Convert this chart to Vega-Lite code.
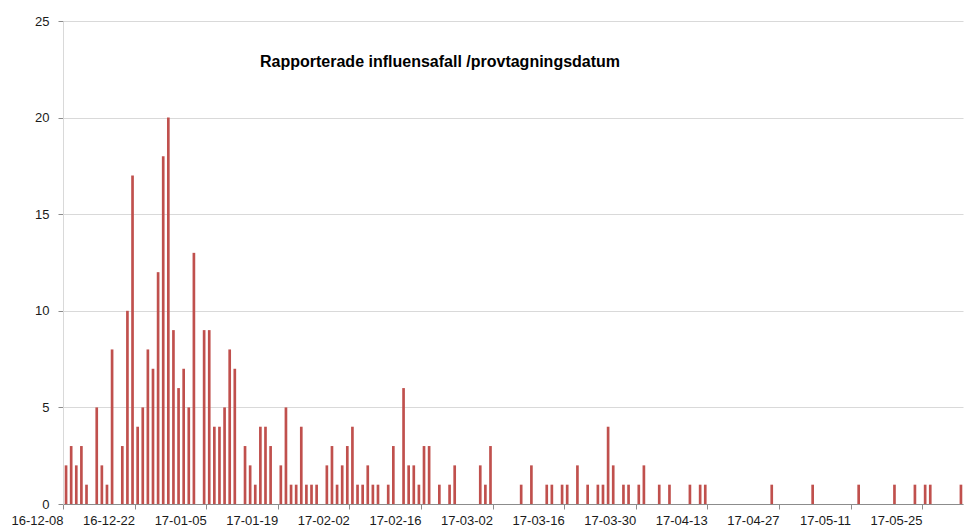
{
  "$schema": "https://vega.github.io/schema/vega-lite/v6.json",
  "autosize": "none",
  "width": 900,
  "height": 483,
  "padding": {"left": 63, "top": 21, "right": 10, "bottom": 25},
  "background": "white",
  "title": {
    "text": "Rapporterade influensafall /provtagningsdatum",
    "anchor": "start",
    "frame": "group",
    "orient": "top",
    "offset": 0,
    "dx": 197,
    "dy": 71,
    "baseline": "bottom",
    "font": "Liberation Sans",
    "fontSize": 16,
    "fontWeight": "bold",
    "color": "#000000"
  },
  "config": {
    "view": {"stroke": null},
    "font": "Liberation Sans"
  },
  "data": {
    "values": [
      {"date": "2016-12-08", "count": 2},
      {"date": "2016-12-09", "count": 3},
      {"date": "2016-12-10", "count": 2},
      {"date": "2016-12-11", "count": 3},
      {"date": "2016-12-12", "count": 1},
      {"date": "2016-12-14", "count": 5},
      {"date": "2016-12-15", "count": 2},
      {"date": "2016-12-16", "count": 1},
      {"date": "2016-12-17", "count": 8},
      {"date": "2016-12-19", "count": 3},
      {"date": "2016-12-20", "count": 10},
      {"date": "2016-12-21", "count": 17},
      {"date": "2016-12-22", "count": 4},
      {"date": "2016-12-23", "count": 5},
      {"date": "2016-12-24", "count": 8},
      {"date": "2016-12-25", "count": 7},
      {"date": "2016-12-26", "count": 12},
      {"date": "2016-12-27", "count": 18},
      {"date": "2016-12-28", "count": 20},
      {"date": "2016-12-29", "count": 9},
      {"date": "2016-12-30", "count": 6},
      {"date": "2016-12-31", "count": 7},
      {"date": "2017-01-01", "count": 5},
      {"date": "2017-01-02", "count": 13},
      {"date": "2017-01-04", "count": 9},
      {"date": "2017-01-05", "count": 9},
      {"date": "2017-01-06", "count": 4},
      {"date": "2017-01-07", "count": 4},
      {"date": "2017-01-08", "count": 5},
      {"date": "2017-01-09", "count": 8},
      {"date": "2017-01-10", "count": 7},
      {"date": "2017-01-12", "count": 3},
      {"date": "2017-01-13", "count": 2},
      {"date": "2017-01-14", "count": 1},
      {"date": "2017-01-15", "count": 4},
      {"date": "2017-01-16", "count": 4},
      {"date": "2017-01-17", "count": 3},
      {"date": "2017-01-19", "count": 2},
      {"date": "2017-01-20", "count": 5},
      {"date": "2017-01-21", "count": 1},
      {"date": "2017-01-22", "count": 1},
      {"date": "2017-01-23", "count": 4},
      {"date": "2017-01-24", "count": 1},
      {"date": "2017-01-25", "count": 1},
      {"date": "2017-01-26", "count": 1},
      {"date": "2017-01-28", "count": 2},
      {"date": "2017-01-29", "count": 3},
      {"date": "2017-01-30", "count": 1},
      {"date": "2017-01-31", "count": 2},
      {"date": "2017-02-01", "count": 3},
      {"date": "2017-02-02", "count": 4},
      {"date": "2017-02-03", "count": 1},
      {"date": "2017-02-04", "count": 1},
      {"date": "2017-02-05", "count": 2},
      {"date": "2017-02-06", "count": 1},
      {"date": "2017-02-07", "count": 1},
      {"date": "2017-02-09", "count": 1},
      {"date": "2017-02-10", "count": 3},
      {"date": "2017-02-12", "count": 6},
      {"date": "2017-02-13", "count": 2},
      {"date": "2017-02-14", "count": 2},
      {"date": "2017-02-15", "count": 1},
      {"date": "2017-02-16", "count": 3},
      {"date": "2017-02-17", "count": 3},
      {"date": "2017-02-19", "count": 1},
      {"date": "2017-02-21", "count": 1},
      {"date": "2017-02-22", "count": 2},
      {"date": "2017-02-27", "count": 2},
      {"date": "2017-02-28", "count": 1},
      {"date": "2017-03-01", "count": 3},
      {"date": "2017-03-07", "count": 1},
      {"date": "2017-03-09", "count": 2},
      {"date": "2017-03-12", "count": 1},
      {"date": "2017-03-13", "count": 1},
      {"date": "2017-03-15", "count": 1},
      {"date": "2017-03-16", "count": 1},
      {"date": "2017-03-18", "count": 2},
      {"date": "2017-03-20", "count": 1},
      {"date": "2017-03-22", "count": 1},
      {"date": "2017-03-23", "count": 1},
      {"date": "2017-03-24", "count": 4},
      {"date": "2017-03-25", "count": 2},
      {"date": "2017-03-27", "count": 1},
      {"date": "2017-03-28", "count": 1},
      {"date": "2017-03-30", "count": 1},
      {"date": "2017-03-31", "count": 2},
      {"date": "2017-04-03", "count": 1},
      {"date": "2017-04-05", "count": 1},
      {"date": "2017-04-09", "count": 1},
      {"date": "2017-04-11", "count": 1},
      {"date": "2017-04-12", "count": 1},
      {"date": "2017-04-25", "count": 1},
      {"date": "2017-05-03", "count": 1},
      {"date": "2017-05-12", "count": 1},
      {"date": "2017-05-19", "count": 1},
      {"date": "2017-05-23", "count": 1},
      {"date": "2017-05-25", "count": 1},
      {"date": "2017-05-26", "count": 1},
      {"date": "2017-06-01", "count": 1}
    ]
  },
  "mark": {"type": "bar", "color": "#C0504D", "width": {"band": 0.72}},
  "encoding": {
    "x": {
      "field": "date",
      "type": "temporal",
      "timeUnit": "utcyearmonthdate",
      "scale": {
        "type": "utc",
        "domain": [
          {"year": 2016, "month": 12, "date": 8, "utc": true},
          {"year": 2017, "month": 6, "date": 2, "utc": true}
        ]
      },
      "axis": {
        "title": null,
        "values": [
          {"year": 2016, "month": 12, "date": 8, "utc": true},
          {"year": 2016, "month": 12, "date": 22, "utc": true},
          {"year": 2017, "month": 1, "date": 5, "utc": true},
          {"year": 2017, "month": 1, "date": 19, "utc": true},
          {"year": 2017, "month": 2, "date": 2, "utc": true},
          {"year": 2017, "month": 2, "date": 16, "utc": true},
          {"year": 2017, "month": 3, "date": 2, "utc": true},
          {"year": 2017, "month": 3, "date": 16, "utc": true},
          {"year": 2017, "month": 3, "date": 30, "utc": true},
          {"year": 2017, "month": 4, "date": 13, "utc": true},
          {"year": 2017, "month": 4, "date": 27, "utc": true},
          {"year": 2017, "month": 5, "date": 11, "utc": true},
          {"year": 2017, "month": 5, "date": 25, "utc": true}
        ],
        "format": "%y-%m-%d",
        "labelAlign": "right",
        "labelDx": 1,
        "labelPadding": 5,
        "labelFontSize": 13,
        "labelColor": "#1a1a1a",
        "labelFont": "Liberation Sans",
        "labelOverlap": false,
        "labelFlush": false,
        "grid": false,
        "domainColor": "#8c8c8c",
        "tickColor": "#8c8c8c",
        "tickSize": 5
      }
    },
    "y": {
      "field": "count",
      "type": "quantitative",
      "scale": {"domain": [0, 25], "nice": false},
      "axis": {
        "title": null,
        "values": [0, 5, 10, 15, 20, 25],
        "labelFontSize": 13,
        "labelColor": "#1a1a1a",
        "labelFont": "Liberation Sans",
        "labelPadding": 9,
        "gridColor": "#d9d9d9",
        "domainColor": "#d9d9d9",
        "tickColor": "#8c8c8c",
        "tickSize": 5
      }
    }
  }
}
